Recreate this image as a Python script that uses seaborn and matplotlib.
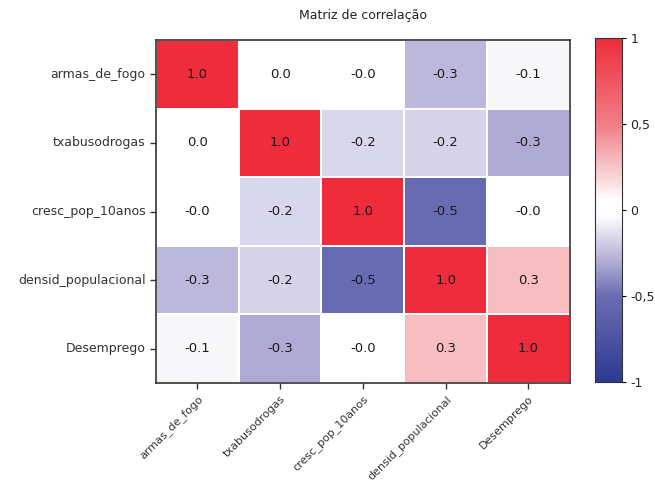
import numpy as np
import pandas as pd
import seaborn as sns
import matplotlib.pyplot as plt
from matplotlib.colors import LinearSegmentedColormap

variables = ["armas_de_fogo", "txabusodrogas", "cresc_pop_10anos",
             "densid_populacional", "Desemprego"]

row_armas = [1.00, 0.02, -0.01, -0.26, -0.06]
row_txab = [0.02, 1.00, -0.16, -0.17, -0.31]
row_cresc = [-0.01, -0.16, 1.00, -0.52, -0.02]
row_densid = [-0.26, -0.17, -0.52, 1.00, 0.28]
row_desemp = [-0.06, -0.31, -0.02, 0.28, 1.00]

corr = pd.DataFrame([row_armas, row_txab, row_cresc, row_densid, row_desemp],
                    index=variables, columns=variables)

# diverging blue - white - red palette with a white band around zero
nodes = [
    (0.00, "#2C3A92"),
    (0.25, "#6A6DB2"),
    (0.35, "#B1ADD5"),
    (0.42, "#D9D7EB"),
    (0.47, "#F7F7FA"),
    (0.49, "#FFFFFF"),
    (0.53, "#FFFFFF"),
    (0.57, "#FCE4E6"),
    (0.65, "#F6B8BC"),
    (0.75, "#F07E86"),
    (1.00, "#EE2C3B"),
]
cmap = LinearSegmentedColormap.from_list("bwr_corr", nodes)

plt.rcParams["font.family"] = ["DejaVu Sans"]
fig = plt.figure(figsize=(6.55, 4.83), dpi=100)
ax = fig.add_axes([0.238, 0.207, 0.632, 0.710])
cax = fig.add_axes([0.908, 0.209, 0.041, 0.712])

sns.heatmap(corr, ax=ax, cbar_ax=cax, cmap=cmap, vmin=-1, vmax=1,
            annot=True, fmt=".1f", linewidths=1.2, linecolor="white",
            annot_kws={"fontsize": 9.5, "color": "#1a1a1a"})

for side in ["left", "bottom", "top", "right"]:
    ax.spines[side].set_visible(True)
    ax.spines[side].set_color("#333333")
    ax.spines[side].set_linewidth(1.2)

ax.tick_params(axis="both", length=4, width=1, color="#333333",
               labelsize=9, labelcolor="#333333")
ax.set_xticklabels(variables, rotation=45, ha="right", rotation_mode="anchor",
                   fontsize=8)
ax.set_yticklabels(variables, rotation=0)
ax.set_xlabel("")
ax.set_ylabel("")
ax.set_title("Matriz de correlação", fontsize=9, color="#222222", pad=15)

cax.set_yticks([-1, -0.5, 0, 0.5, 1])
cax.set_yticklabels(["-1", "-0,5", "0", "0,5", "1"])
cax.tick_params(length=3, labelsize=9, labelcolor="#222222")
for side in cax.spines.values():
    side.set_visible(True)
    side.set_color("#333333")

fig.savefig("out.png", dpi=100)
